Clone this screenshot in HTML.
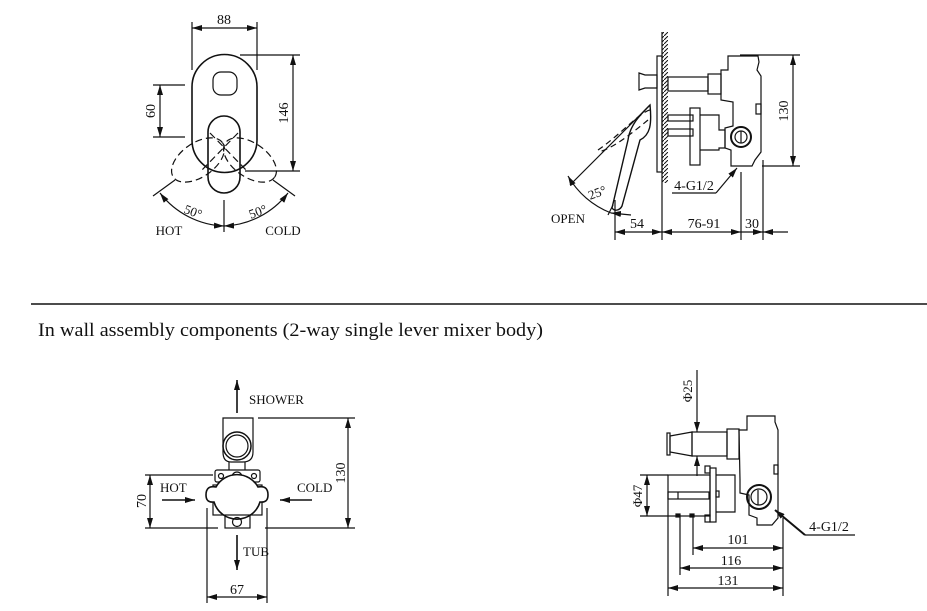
<!DOCTYPE html>
<html><head><meta charset="utf-8"><style>
html,body{margin:0;padding:0;background:#fff}
svg{display:block}
text{font-family:"Liberation Serif","Noto Serif CJK SC",serif;fill:#111}
</style></head><body>
<svg width="927" height="611" viewBox="0 0 927 611" xmlns="http://www.w3.org/2000/svg">
<defs>
<marker id="a" viewBox="0 0 10 6" refX="10" refY="3" markerWidth="10" markerHeight="6" orient="auto-start-reverse" markerUnits="userSpaceOnUse"><path d="M0,0 L10,3 L0,6z" fill="#111"/></marker>
<pattern id="h" width="4" height="4" patternUnits="userSpaceOnUse"><path d="M0,4 L4,0" stroke="#111" stroke-width="1"/></pattern>
</defs>
<g stroke="#111" stroke-width="1.2" fill="none">
<!-- ===== TOP LEFT ===== -->
<line x1="192" y1="22" x2="192" y2="70"/><line x1="257" y1="22" x2="257" y2="70"/>
<line x1="192" y1="28" x2="257" y2="28" marker-start="url(#a)" marker-end="url(#a)"/>
<path d="M192,87 A32.5,32.5 0 0 1 257,87 L257,140 A32.5,32.5 0 0 1 192,140 Z" stroke-width="1.6"/>
<rect x="213" y="72" width="24" height="23" rx="8"/>
<rect x="208" y="116" width="32" height="77" rx="16" stroke-width="1.6"/>
<g stroke-dasharray="7,4">
<ellipse cx="198" cy="160" rx="30" ry="17" transform="rotate(-35 198 160)"/>
<ellipse cx="250" cy="160" rx="30" ry="17" transform="rotate(35 250 160)"/>
<line x1="210" y1="133" x2="248" y2="172"/><line x1="238" y1="133" x2="200" y2="172"/>
</g>
<line x1="240" y1="55" x2="300" y2="55"/><line x1="245" y1="171" x2="300" y2="171"/>
<line x1="293" y1="55" x2="293" y2="171" marker-start="url(#a)" marker-end="url(#a)"/>
<line x1="153" y1="85" x2="185" y2="85"/><line x1="153" y1="137" x2="185" y2="137"/>
<line x1="160" y1="85" x2="160" y2="137" marker-start="url(#a)" marker-end="url(#a)"/>
<line x1="224" y1="200" x2="224" y2="232"/>
<line x1="175" y1="180" x2="153" y2="196"/><line x1="273" y1="180" x2="295" y2="196"/>
<path d="M160,193 A85,85 0 0 0 224,226" marker-start="url(#a)" marker-end="url(#a)"/>
<path d="M224,226 A85,85 0 0 0 288,193" marker-start="url(#a)" marker-end="url(#a)"/>
<!-- ===== TOP RIGHT ===== -->
<rect x="662" y="32" width="6" height="151" fill="url(#h)" stroke="none"/>
<line x1="662" y1="32" x2="662" y2="240"/>
<rect x="657" y="56" width="5" height="116"/>
<path d="M639,73 L645,75 L657,75 L657,88 L645,88 L639,90 Z"/>
<rect x="668" y="77" width="40" height="14"/>
<rect x="708" y="74" width="13" height="20"/>
<path d="M728,56 L758,56 L759,62 L757,70 L761,76 L761,152 L755,160 L752,166 L731,166 L731,150 L725,148 L725,128 L733,126 L733,102 L721,100 L721,70 L728,70 Z"/>
<rect x="756" y="104" width="5" height="10"/>
<circle cx="741" cy="137" r="10" stroke-width="2"/><circle cx="741" cy="137" r="6"/>
<line x1="741" y1="131" x2="741" y2="143"/>
<rect x="668" y="115" width="25" height="6"/><rect x="668" y="129" width="25" height="7"/>
<rect x="690" y="108" width="10" height="57"/>
<path d="M700,115 L719,115 L719,130 L725,130 L725,148 L719,148 L719,150 L700,150"/>
<path d="M650,105 C640,115 630,125 628,140 L612,208 C615,212 620,210 622,206 L640,140 C650,135 652,125 650,105Z" stroke-width="1.4"/>
<path d="M650,110 C640,112 620,135 598,150 M648,120 C630,135 610,150 598,152" stroke-dasharray="6,4"/>
<line x1="650" y1="105" x2="570" y2="185"/>
<line x1="613" y1="205" x2="608" y2="215"/>
<path d="M568,176 A85,85 0 0 0 611,213" marker-start="url(#a)"/>
<line x1="611" y1="213" x2="631" y2="215" marker-start="url(#a)"/>
<line x1="740" y1="55" x2="800" y2="55"/><line x1="762" y1="166" x2="800" y2="166"/>
<line x1="793" y1="55" x2="793" y2="166" marker-start="url(#a)" marker-end="url(#a)"/>
<line x1="615" y1="200" x2="615" y2="240"/><line x1="741" y1="172" x2="741" y2="240"/><line x1="763" y1="160" x2="763" y2="240"/>
<line x1="615" y1="232" x2="662" y2="232" marker-start="url(#a)" marker-end="url(#a)"/>
<line x1="662" y1="232" x2="741" y2="232" marker-start="url(#a)" marker-end="url(#a)"/>
<line x1="741" y1="232" x2="763" y2="232" marker-end="url(#a)"/>
<line x1="763" y1="232" x2="788" y2="232" marker-start="url(#a)"/>
<line x1="672" y1="193" x2="716" y2="193"/><line x1="716" y1="193" x2="737" y2="168" marker-end="url(#a)"/>
<!-- separator -->
<line x1="31" y1="304" x2="927" y2="304" stroke-width="1.4"/>
<!-- ===== BOTTOM LEFT ===== -->
<line x1="237" y1="413" x2="237" y2="380" marker-end="url(#a)" stroke-width="1.6"/>
<path d="M223,418 L253,418 L253,452 Q253,462 243,462 L231,462 Q223,462 223,452 Z"/>
<circle cx="237" cy="446" r="14" stroke-width="1.5"/><circle cx="237" cy="446" r="11"/>
<line x1="229" y1="462" x2="229" y2="470"/><line x1="245" y1="462" x2="245" y2="470"/>
<rect x="215" y="470" width="45" height="12" rx="2"/>
<circle cx="221" cy="476" r="2.5"/><circle cx="254" cy="476" r="2.5"/><circle cx="237" cy="477" r="5"/>
<rect x="213" y="485" width="49" height="30"/>
<path d="M216,487 A24,24 0 0 1 258,487 Q268,485 268,495 Q268,503 260,502 A24,24 0 0 1 214,502 Q206,503 206,495 Q206,485 216,487Z" fill="#fff" stroke-width="1.6"/>
<rect x="225" y="515" width="25" height="13"/><circle cx="237" cy="522" r="4.5"/>
<line x1="162" y1="500" x2="195" y2="500" marker-end="url(#a)" stroke-width="1.6"/>
<line x1="312" y1="500" x2="280" y2="500" marker-end="url(#a)" stroke-width="1.6"/>
<line x1="237" y1="535" x2="237" y2="570" marker-end="url(#a)" stroke-width="1.6"/>
<line x1="258" y1="418" x2="355" y2="418"/>
<line x1="265" y1="528" x2="355" y2="528"/><line x1="145" y1="528" x2="218" y2="528"/>
<line x1="145" y1="475" x2="213" y2="475"/>
<line x1="348" y1="418" x2="348" y2="528" marker-start="url(#a)" marker-end="url(#a)"/>
<line x1="150" y1="475" x2="150" y2="528" marker-start="url(#a)" marker-end="url(#a)"/>
<line x1="207" y1="508" x2="207" y2="603"/><line x1="267" y1="508" x2="267" y2="603"/>
<line x1="207" y1="597" x2="267" y2="597" marker-start="url(#a)" marker-end="url(#a)"/>
<!-- ===== BOTTOM RIGHT ===== -->
<line x1="697" y1="370" x2="697" y2="432" marker-end="url(#a)"/>
<line x1="697" y1="476" x2="697" y2="456" marker-end="url(#a)"/>
<rect x="667" y="433" width="3" height="22"/>
<path d="M670,436 L692,432 L692,456 L670,452 Z"/>
<rect x="692" y="432" width="35" height="24"/>
<rect x="727" y="429" width="12" height="30"/>
<path d="M747,416 L775,416 L775,422 L778,430 L778,518 L772,525 L757,525 L757,518 L749,515 L749,495 L740,493 L740,480 L739,430 L747,430 Z"/>
<rect x="774" y="465" width="4" height="9"/>
<circle cx="759" cy="497" r="12" stroke-width="2"/><circle cx="759" cy="497" r="8"/>
<line x1="758" y1="490" x2="758" y2="505"/>
<rect x="668" y="475" width="42" height="41"/>
<rect x="668" y="492" width="41" height="7"/><line x1="678" y1="492" x2="678" y2="499"/>
<rect x="710" y="468" width="6" height="54"/>
<rect x="705" y="466" width="5" height="7"/><rect x="705" y="515" width="5" height="7"/>
<path d="M716,475 L735,475 L735,512 L716,512"/>
<rect x="716" y="491" width="3" height="6"/>
<rect x="676" y="514" width="4" height="3" fill="#111"/><rect x="690" y="514" width="4" height="3" fill="#111"/>
<line x1="640" y1="475" x2="668" y2="475"/><line x1="640" y1="516" x2="668" y2="516"/>
<line x1="647" y1="475" x2="647" y2="516" marker-start="url(#a)" marker-end="url(#a)"/>
<line x1="668" y1="516" x2="668" y2="596"/><line x1="680" y1="517" x2="680" y2="575"/><line x1="693" y1="517" x2="693" y2="555"/>
<line x1="783" y1="518" x2="783" y2="596"/>
<line x1="693" y1="548" x2="783" y2="548" marker-start="url(#a)" marker-end="url(#a)"/>
<line x1="680" y1="568" x2="783" y2="568" marker-start="url(#a)" marker-end="url(#a)"/>
<line x1="668" y1="588" x2="783" y2="588" marker-start="url(#a)" marker-end="url(#a)"/>
<line x1="805" y1="535" x2="775" y2="510" marker-end="url(#a)" stroke-width="2"/>
<line x1="805" y1="535" x2="855" y2="535"/>
</g>
<g font-size="13">
<text x="224" y="24" text-anchor="middle" font-size="14">88</text>
<text transform="translate(288,113) rotate(-90)" text-anchor="middle" font-size="14">146</text>
<text transform="translate(155,111) rotate(-90)" text-anchor="middle" font-size="14">60</text>
<text x="193" y="216" text-anchor="middle" transform="rotate(20 193 212)">50°</text>
<text x="258" y="216" text-anchor="middle" transform="rotate(-20 258 212)">50°</text>
<text x="169" y="235" text-anchor="middle">HOT</text>
<text x="283" y="235" text-anchor="middle">COLD</text>
<text transform="translate(788,111) rotate(-90)" text-anchor="middle" font-size="14">130</text>
<text x="597" y="197" text-anchor="middle" transform="rotate(-20 597 192)">25°</text>
<text x="568" y="223" text-anchor="middle">OPEN</text>
<text x="637" y="228" text-anchor="middle" font-size="14">54</text>
<text x="704" y="228" text-anchor="middle" font-size="14">76-91</text>
<text x="752" y="228" text-anchor="middle" font-size="14">30</text>
<text x="694" y="190" text-anchor="middle" font-size="14">4-G1/2</text>
<text x="38" y="336" font-size="19" textLength="505" lengthAdjust="spacingAndGlyphs">In wall assembly components (2-way single lever mixer body)</text>
<text x="249" y="404">SHOWER</text>
<text x="160" y="492">HOT</text>
<text x="297" y="492">COLD</text>
<text x="243" y="556">TUB</text>
<text transform="translate(345,473) rotate(-90)" text-anchor="middle" font-size="14">130</text>
<text transform="translate(146,501) rotate(-90)" text-anchor="middle" font-size="14">70</text>
<text x="237" y="594" text-anchor="middle" font-size="14">67</text>
<text transform="translate(692,391) rotate(-90)" text-anchor="middle">Φ25</text>
<text transform="translate(642,496) rotate(-90)" text-anchor="middle">Φ47</text>
<text x="738" y="544" text-anchor="middle" font-size="14">101</text>
<text x="731" y="565" text-anchor="middle" font-size="14">116</text>
<text x="728" y="585" text-anchor="middle" font-size="14">131</text>
<text x="829" y="531" text-anchor="middle" font-size="14">4-G1/2</text>
</g>
</svg>
</body></html>
